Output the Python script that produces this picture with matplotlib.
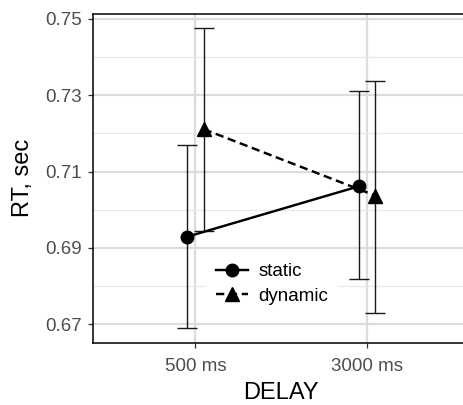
import matplotlib
matplotlib.use("Agg")
import matplotlib.pyplot as plt
from matplotlib.ticker import FixedLocator
import numpy as np

plt.rcParams['font.family'] = ['Liberation Sans', 'DejaVu Sans']

delays = ["500 ms", "3000 ms"]
groups = ["static", "dynamic"]
means_static = [0.6929, 0.7061]
lower_static = [0.6689, 0.6817]
upper_static = [0.7170, 0.7310]
means_dynamic = [0.7211, 0.7037]
lower_dynamic = [0.6944, 0.6730]
upper_dynamic = [0.7476, 0.7337]

fig = plt.figure(figsize=(4.64, 4.05), dpi=100)
ax = fig.add_axes([92.7/464, 62/405, (469.6-92.7)/464, (343-13.5)/405])

x = np.arange(1, len(delays) + 1)
dodge = 0.048

ax.set_xlim(0.4, 2.6)
ax.set_ylim(0.66502, 0.75144)

ax.yaxis.set_major_locator(FixedLocator([0.67, 0.69, 0.71, 0.73, 0.75]))
ax.yaxis.set_minor_locator(FixedLocator([0.68, 0.70, 0.72, 0.74]))
ax.set_yticklabels(["0.67", "0.69", "0.71", "0.73", "0.75"])
ax.set_xticks(x)
ax.set_xticklabels(delays)
ax.grid(True, which='major', color='#DCDCDC', linewidth=1.6, zorder=0)
ax.grid(True, which='minor', axis='y', color='#E8E8E8', linewidth=0.9, zorder=0)
ax.set_axisbelow(True)

series = [
    (means_static, lower_static, upper_static, -dodge, 'o', '-', 'static'),
    (means_dynamic, lower_dynamic, upper_dynamic, dodge, '^', '--', 'dynamic'),
]
for m, lo, hi, off, mk, ls, lab in series:
    xs = x + off
    m = np.array(m); lo = np.array(lo); hi = np.array(hi)
    ax.errorbar(xs, m, yerr=[m - lo, hi - m], fmt='none', ecolor='#1a1a1a',
                elinewidth=1.0, capsize=7.5, capthick=1.0, zorder=2)
    kw = dict(dashes=(3.4, 1.9)) if ls == '--' else {}
    ax.plot(xs, m, linestyle=ls, color='black', linewidth=1.75,
            marker=mk, markersize=9 if mk == 'o' else 9.5, label=lab, zorder=3, **kw)

for sp in ax.spines.values():
    sp.set_color('black')
    sp.set_linewidth(1.1)

ax.tick_params(axis='both', which='major', length=3.5, width=0.9, color='#333333',
               labelcolor='#4D4D4D', labelsize=13.5)
ax.tick_params(axis='y', which='minor', length=0)
ax.tick_params(axis='x', pad=7)
ax.tick_params(axis='y', pad=4)

ax.set_ylabel("RT, sec", fontsize=17, color='black', labelpad=8)
ax.set_xlabel("DELAY", fontsize=17, color='black', labelpad=5)

leg = ax.legend(loc='center', bbox_to_anchor=(272/464, 1 - 284/405),
                bbox_transform=fig.transFigure, frameon=True, fontsize=13.5,
                handlelength=1.7, handletextpad=0.55, labelspacing=0.4,
                borderpad=0.6, fancybox=False)
leg.get_frame().set_facecolor('white')
leg.get_frame().set_edgecolor('none')
leg.get_frame().set_alpha(1)

fig.savefig("out.png", dpi=100)
